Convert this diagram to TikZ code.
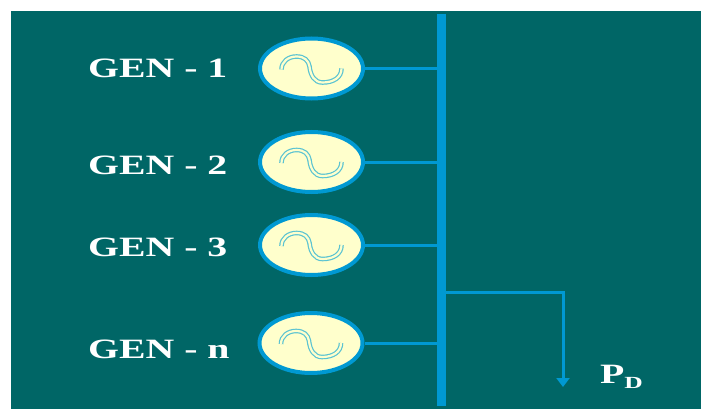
\documentclass[tikz,border=0pt]{standalone}
\usepackage{graphicx}
\usepackage{fontspec}
\setmainfont{Liberation Serif}
\usetikzlibrary{arrows.meta,shapes.geometric}
\definecolor{bgteal}{RGB}{0,102,102}
\definecolor{busblue}{RGB}{0,153,210}
\definecolor{cream}{RGB}{255,255,204}
\definecolor{waveblue}{RGB}{90,195,210}
\newcommand{\wide}[1]{\scalebox{1.42}[1]{#1}}
\tikzset{
  x=1pt,y=-1pt,
  gen/.style={ellipse,draw=busblue,line width=4pt,fill=cream,minimum width=103pt,minimum height=60pt,inner sep=0pt},
  lab/.style={text=white,font=\bfseries\fontsize{28}{28}\selectfont,inner sep=0pt,anchor=base west},
  feeder/.style={draw=busblue,line width=3pt},
  bus/.style={draw=busblue,line width=8.3pt},
  wave/.pic={
    \draw[waveblue,line width=4.6pt] (-30,1) .. controls (-30,-7) and (-23,-12) .. (-15,-12) .. controls (-7,-12) and (-3,-8) .. (-2,-2) .. controls (-1,7) and (3,14) .. (11,14) .. controls (22,14) and (30,9) .. (30,0);
    \draw[cream,line width=2.2pt] (-30,1) .. controls (-30,-7) and (-23,-12) .. (-15,-12) .. controls (-7,-12) and (-3,-8) .. (-2,-2) .. controls (-1,7) and (3,14) .. (11,14) .. controls (22,14) and (30,9) .. (30,0);
  }
}
\begin{document}
\begin{tikzpicture}
\useasboundingbox (0,0) rectangle (701,409);
\fill[white] (0,0) rectangle (701,409);
\node[fill=bgteal,minimum width=690pt,minimum height=398pt,inner sep=0pt,anchor=north west] (panel) at (11,11) {};
\coordinate (bustop) at (441.5,14);
\coordinate (busbot) at (441.5,406);
\draw[bus] (bustop) -- (busbot);
\foreach \n/\y/\x in {a/68.5/311.5,b/162/311.5,c/245/311.5,d/343/311}{
  \node[gen] (g\n) at (\x,\y) {};
  \coordinate (t\n) at (441,\y);
  \draw[feeder] (g\n.east) -- (t\n);
  \pic at (g\n.center) {wave};
}
\node[lab] (la) at (88,77.5) {\wide{GEN - 1}};
\node[lab] (lb) at (88,174) {\wide{GEN - 2}};
\node[lab] (lc) at (88,256) {\wide{GEN - 3}};
\node[lab] (ld) at (88,358) {\wide{GEN - n}};
\coordinate (tap) at (441,292);
\coordinate (corner) at (563,292);
\coordinate (load) at (563,387);
\draw[feeder,-{Stealth[length=9pt,width=13pt,inset=0pt]}] (tap) -- (corner) -- (load);
\node[lab] (pd) at (600,383) {\wide{P}\raisebox{-5pt}{\fontsize{17}{17}\selectfont\scalebox{1.5}[1]{D}}};
\end{tikzpicture}
\end{document}
